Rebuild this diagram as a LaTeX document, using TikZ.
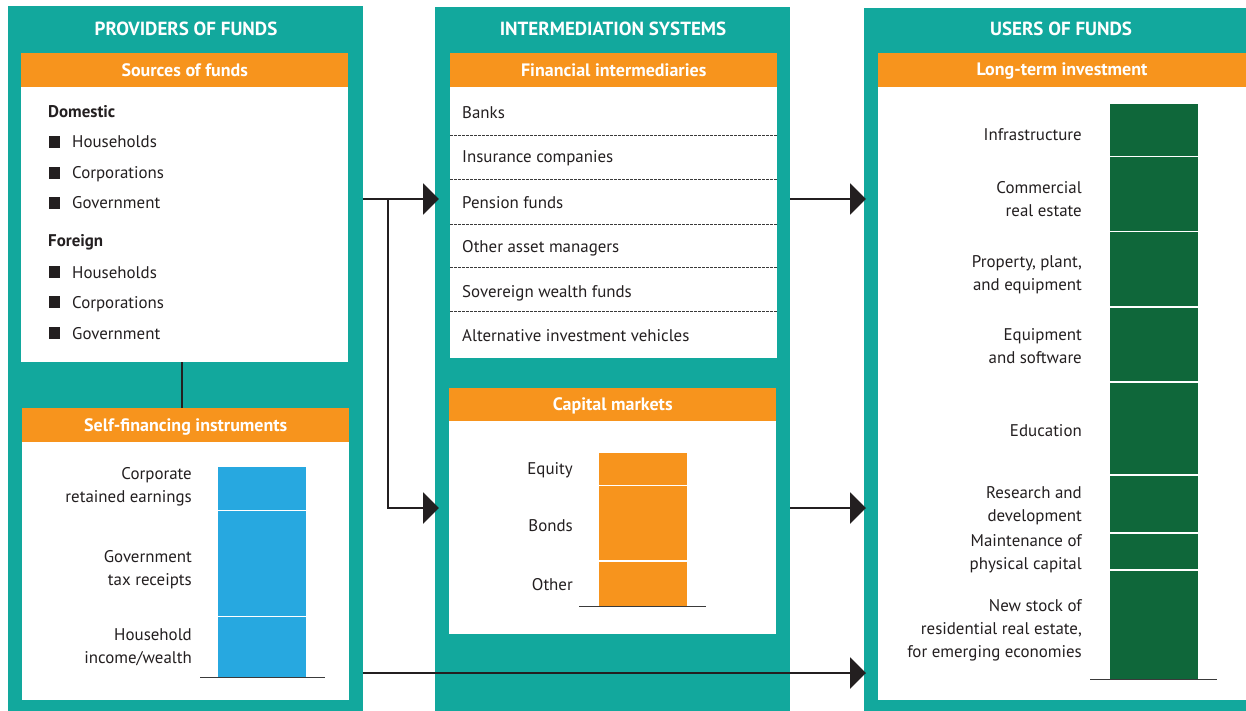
\documentclass[tikz,border=0pt]{standalone}
\usepackage{fontspec}
\setmainfont{PT Sans}
\usetikzlibrary{arrows.meta}

\definecolor{panelteal}{HTML}{12A89D}
\definecolor{hdrorange}{HTML}{F7941D}
\definecolor{barblue}{HTML}{27A8E0}
\definecolor{bargreen}{HTML}{0F673A}
\definecolor{ink}{HTML}{231F20}
\definecolor{rulegray}{HTML}{3A3A3A}

\newcommand{\bodyfont}{\fontsize{16.9}{23}\selectfont}
\newcommand{\headfont}{\fontsize{18}{20}\selectfont\bfseries}
\newcommand{\capsfont}{\fontsize{19}{20}\selectfont\bfseries}

\begin{document}
\begin{tikzpicture}[x=1pt,y=-1pt,
  box/.style={draw=none, inner sep=0pt, anchor=north west},
  panel/.style={box, fill=panelteal},
  whitebox/.style={box, fill=white},
  header/.style={box, fill=hdrorange, text=white, font=\headfont,
                 text height=12.5pt, text depth=0pt},
  title/.style={anchor=base, inner sep=0pt, text=white, font=\capsfont},
  lbl/.style={anchor=base west, inner sep=0pt, text=ink, font=\bodyfont},
  rlbl/.style={anchor=base east, inner sep=0pt, text=ink, font=\bodyfont, align=right},
  bullet/.style={fill=ink, draw=none, inner sep=0pt, minimum width=11pt, minimum height=12pt, anchor=south west},
  sep/.style={draw=rulegray, line width=0.8pt, dash pattern=on 2.5pt off 1.5pt},
  axis/.style={draw=rulegray, line width=1.3pt},
  conn/.style={draw=ink, line width=2.3pt},
  arrow/.style={conn, -{Triangle[length=16pt, width=31pt]}}
]
\useasboundingbox (0,0) rectangle (1246,711);
\fill[white] (0,0) rectangle (1246,711);

% ---------------- Providers of funds ----------------
\node[panel, minimum width=355pt, minimum height=705pt] (prov) at (8,6) {};
\node[title] (provT) at (186,36) {PROVIDERS OF FUNDS};
\node[header, minimum width=327pt, minimum height=34pt] (srcH) at (21,53) {Sources of funds};
\node[whitebox, minimum width=327pt, minimum height=275pt] (src) at (21,87) {};

\node[lbl, font=\bodyfont\bfseries] (dom) at (48,118) {Domestic};
\node[bullet] (b1) at (49,148) {};
\node[lbl] (dh) at (72,148) {Households};
\node[bullet] (b2) at (49,179) {};
\node[lbl] (dc) at (72,179) {Corporations};
\node[bullet] (b3) at (49,209) {};
\node[lbl] (dg) at (72,209) {Government};
\node[lbl, font=\bodyfont\bfseries] (for) at (48,247) {Foreign};
\node[bullet] (b4) at (49,278) {};
\node[lbl] (fh) at (72,278) {Households};
\node[bullet] (b5) at (49,308) {};
\node[lbl] (fc) at (72,308) {Corporations};
\node[bullet] (b6) at (49,339) {};
\node[lbl] (fg) at (72,339) {Government};

\node[header, minimum width=327pt, minimum height=34pt] (selfH) at (22,408) {Self-financing instruments};
\node[whitebox, minimum width=327pt, minimum height=258pt] (self) at (22,442) {};

\fill[barblue] (218,467) rectangle (306,509.5);
\fill[barblue] (218,511) rectangle (306,615.5);
\fill[barblue] (218,617) rectangle (306,677);
\draw[axis] (200,677.5) -- (325,677.5);
% multi-line labels are placed by the baseline of their last line
\node[rlbl] (l1) at (192,502) {Corporate\\retained earnings};
\node[rlbl] (l2) at (192,585) {Government\\tax receipts};
\node[rlbl] (l3) at (192,663) {Household\\income/wealth};

% ---------------- Intermediation systems ----------------
\node[panel, minimum width=355pt, minimum height=704pt] (inter) at (435,7) {};
\node[title] (interT) at (613,36) {INTERMEDIATION SYSTEMS};
\node[header, minimum width=327pt, minimum height=34pt] (finH) at (450,53) {Financial intermediaries};
\node[whitebox, minimum width=327pt, minimum height=271pt] (fin) at (450,87) {};

\node[lbl] (i1) at (462,119) {Banks};
\node[lbl] (i2) at (462,163) {Insurance companies};
\node[lbl] (i3) at (462,209) {Pension funds};
\node[lbl] (i4) at (462,252) {Other asset managers};
\node[lbl] (i5) at (462,297) {Sovereign wealth funds};
\node[lbl] (i6) at (462,341) {Alternative investment vehicles};
\foreach \yy in {135,179,224,267,311}
  \draw[sep] (fin.west |- 0,\yy) -- (fin.east |- 0,\yy);

\node[header, minimum width=327pt, minimum height=33pt] (capH) at (449,388) {Capital markets};
\node[whitebox, minimum width=327pt, minimum height=213pt] (cap) at (449,421) {};

\fill[hdrorange] (599,453) rectangle (687,484.5);
\fill[hdrorange] (599,486) rectangle (687,560);
\fill[hdrorange] (599,562) rectangle (687,606);
\draw[axis] (579,606.5) -- (706,606.5);
\node[rlbl] (c1) at (573,474) {Equity};
\node[rlbl] (c2) at (573,531) {Bonds};
\node[rlbl] (c3) at (573,590) {Other};

% ---------------- Users of funds ----------------
\node[panel, minimum width=382pt, minimum height=703pt] (users) at (864,8) {};
\node[title] (usersT) at (1061,36) {USERS OF FUNDS};
\node[header, minimum width=368pt, minimum height=34pt] (ltH) at (878,53) {};
\node[title, font=\headfont] (ltT) at (1062,76) {Long-term investment};
\node[whitebox, minimum width=368pt, minimum height=613pt] (lt) at (878,87) {};

\fill[bargreen] (1110,104) rectangle (1198,156);
\fill[bargreen] (1110,157.5) rectangle (1198,231);
\fill[bargreen] (1110,232.5) rectangle (1198,306);
\fill[bargreen] (1110,308) rectangle (1198,381);
\fill[bargreen] (1110,382.5) rectangle (1198,474);
\fill[bargreen] (1110,476) rectangle (1198,532);
\fill[bargreen] (1110,533.5) rectangle (1198,569);
\fill[bargreen] (1110,570.5) rectangle (1198,679);
\draw[axis] (1090,679.5) -- (1217,679.5);

\node[rlbl] (u1) at (1082,141) {Infrastructure};
\node[rlbl] (u2) at (1082,217) {Commercial\\real estate};
\node[rlbl] (u3) at (1082,290) {Property, plant,\\and equipment};
\node[rlbl] (u4) at (1082,363) {Equipment\\and software};
\node[rlbl] (u5) at (1082,436) {Education};
\node[rlbl] (u6) at (1082,521) {Research and\\development};
\node[rlbl] (u7) at (1082,569) {Maintenance of\\physical capital};
\node[rlbl] (u8) at (1082,657) {New stock of\\residential real estate,\\for emerging economies};

% ---------------- Connectors ----------------
\coordinate (split) at (388,199);
\coordinate (finIn) at (439,199);
\coordinate (capIn) at (439,508);
\coordinate (ltIn1) at (866,199);
\coordinate (ltIn2) at (866,508);
\coordinate (ltIn3) at (866,673);

\draw[conn] (src.south -| 182,0) -- (selfH.north -| 182,0);
\draw[arrow] (prov.east |- finIn) -- (finIn);
\draw[arrow] (split) |- (capIn);
\draw[arrow] (inter.east |- ltIn1) -- (ltIn1);
\draw[arrow] (inter.east |- ltIn2) -- (ltIn2);
\draw[arrow] (prov.east |- ltIn3) -- (ltIn3);
\end{tikzpicture}
\end{document}
